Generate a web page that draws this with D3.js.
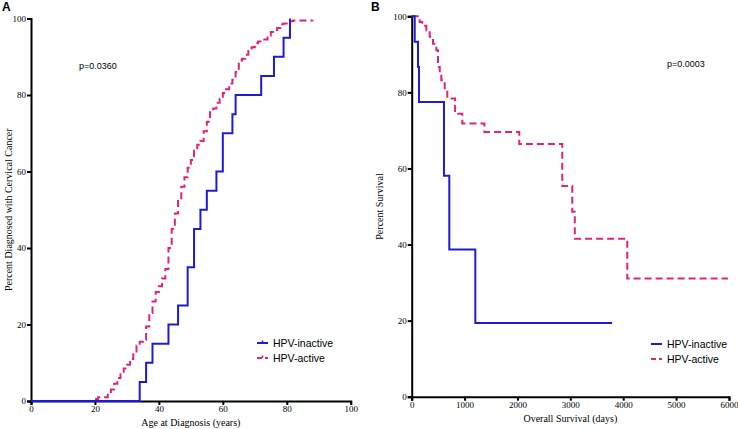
<!DOCTYPE html>
<html><head><meta charset="utf-8">
<script src="https://cdn.jsdelivr.net/npm/d3@7"></script>
<style>body{margin:0;background:#fff}svg{display:block}</style>
</head><body>
<svg id="c" width="738" height="429"></svg>
<script>
// Panel A: cumulative incidence by age
const ageTicks = [0,20,40,60,80,100];
const pctTicks = [0,20,40,60,80,100];
const inactiveAge = [0,34,36,38,43,46,49,51,53,55,58,60,63,64,72,76,79,81];
const inactiveAgePct = [0,5,10,15,20,25,35,45,50,55,60,70,75,80,85,90,95,100];
const activeAge = [0,20,21,22,24,25,26,27,28,29,30,31,32,33,34,35,36,37,38,39,40,41,42,43,44,45,46,47,48,49,50,51,52,53,54,55,56,57,58,59,60,61,62,63,64,65,66,67,68,69,70,71,72,73,74,75,76,77,78,79,80,82,85,88];
const activeAgePct = [0,0.5,1,1,2,3,4.5,6,7,8.5,9.5,11,12.5,14.5,15.5,16,19.5,23,26,28.5,30,32,34.5,40,45,49,53,56,58.5,61,63,65.5,67,68,70.5,73,75.5,76.5,78,79,80.5,81.5,83,84,86,89,89.5,90.5,91.5,92.5,93.5,94,94,94.5,95.5,96.5,97,97.5,98.5,98.7,99.3,99.5,99.5,99.7];

// Panel B: overall survival
const dayTicks = [0,1000,2000,3000,4000,5000,6000];
const inactiveDays = [0,57,119,138,610,711,1203,3790];
const inactiveSurv = [100,93.3,86.7,77.5,58.1,38.7,19.4,19.4];
const activeDays = [0,88,150,200,277,340,403,466,497,530,560,624,673,820,957,1375,2034,2847,3036,3084,4076,5980];
const activeSurv = [100,100,98.5,97.5,96.3,94.6,92.8,91.1,86.7,85,83.2,80.6,78.4,74.4,71.8,69.6,66.4,55.4,48.6,41.5,31.1,31.1];

const seriesNames = ["HPV-inactive","HPV-active"];
const blue = "#1c1cd6", pink = "#e0227e";

const svg = d3.select("#c");

function panel(o){
  const g = svg.append("g");
  const x = d3.scaleLinear().domain(o.xDomain).range([o.left,o.right]);
  const y = d3.scaleLinear().domain([0,100]).range([o.bottom,o.top]);
  const xa = g.append("g").attr("transform",`translate(0,${o.bottom})`)
    .call(d3.axisBottom(x).tickValues(o.xTicks).tickSize(4).tickPadding(1).tickFormat(d3.format("d")));
  const ya = g.append("g").attr("transform",`translate(${o.left},0)`)
    .call(d3.axisLeft(y).tickValues(pctTicks).tickSize(4).tickPadding(1).tickFormat(d3.format("d")));
  [xa,ya].forEach(a=>{
    a.select(".domain").attr("stroke","#000").attr("stroke-width",2);
    a.selectAll(".tick line").attr("stroke","#000").attr("stroke-width",2);
    a.selectAll("text").attr("font-family","'Liberation Serif','DejaVu Serif',serif").attr("font-size",9).attr("fill","#000");
  });
  const line = d3.line().x(d=>x(d[0])).y(d=>y(d[1])).curve(d3.curveStepAfter);
  const s1 = o.s1x.map((v,i)=>[v,o.s1y[i]]);
  const s2 = o.s2x.map((v,i)=>[v,o.s2y[i]]);
  g.append("path").datum(s2).attr("d",line).attr("fill","none").attr("stroke",pink).attr("stroke-width",2).attr("stroke-dasharray","7,4");
  g.append("path").datum(s1).attr("d",line).attr("fill","none").attr("stroke",blue).attr("stroke-width",2);
  // titles
  g.append("text").attr("x",(o.left+o.right)/2).attr("y",o.bottom+25).attr("text-anchor","middle")
    .attr("font-family","'Liberation Serif',serif").attr("font-size",10).text(o.xTitle);
  g.append("text").attr("transform",`translate(${o.ytx},${(o.top+o.bottom)/2}) rotate(-90)`).attr("text-anchor","middle")
    .attr("font-family","'Liberation Serif',serif").attr("font-size",10).text(o.yTitle);
  g.append("text").attr("x",o.px).attr("y",o.py).attr("font-family","'Liberation Sans',Arial,sans-serif").attr("font-size",9).text(o.pText);
  g.append("text").attr("x",o.lx).attr("y",11).attr("font-family","'Liberation Sans',Arial,sans-serif").attr("font-weight","bold").attr("font-size",12).text(o.label);
  // legend
  const cols=[blue,pink];
  seriesNames.forEach((n,i)=>{
    const ly = o.legY + i*15;
    g.append("line").attr("x1",o.legX).attr("x2",o.legX+11).attr("y1",ly).attr("y2",ly)
      .attr("stroke",cols[i]).attr("stroke-width",2).attr("stroke-dasharray",i? "5,3":null);
    if(o.legTick) g.append("line").attr("x1",o.legX+5.5).attr("x2",o.legX+5.5).attr("y1",ly-2.5).attr("y2",ly)
      .attr("stroke",cols[i]).attr("stroke-width",1.5);
    g.append("text").attr("x",o.legX+16).attr("y",ly+3.7).attr("font-family","'Liberation Sans',Arial,sans-serif")
      .attr("font-size",10.5).text(n);
  });
}

panel({xDomain:[0,100],left:31,right:350.7,top:18.5,bottom:401,xTicks:ageTicks,
  s1x:inactiveAge,s1y:inactiveAgePct,s2x:activeAge,s2y:activeAgePct,
  xTitle:"Age at Diagnosis (years)",yTitle:"Percent Diagnosed with Cervical Cancer",ytx:12,
  pText:"p=0.0360",px:79,py:69,label:"A",lx:2,legX:257,legY:343,legTick:true});
panel({xDomain:[0,6000],left:411.7,right:729,top:16.3,bottom:396.7,xTicks:dayTicks,
  s1x:inactiveDays,s1y:inactiveSurv,s2x:activeDays,s2y:activeSurv,
  xTitle:"Overall Survival (days)",yTitle:"Percent Survival",ytx:383,
  pText:"p=0.0003",px:667,py:67,label:"B",lx:371,legX:651,legY:344,legTick:false});
</script>
</body></html>
